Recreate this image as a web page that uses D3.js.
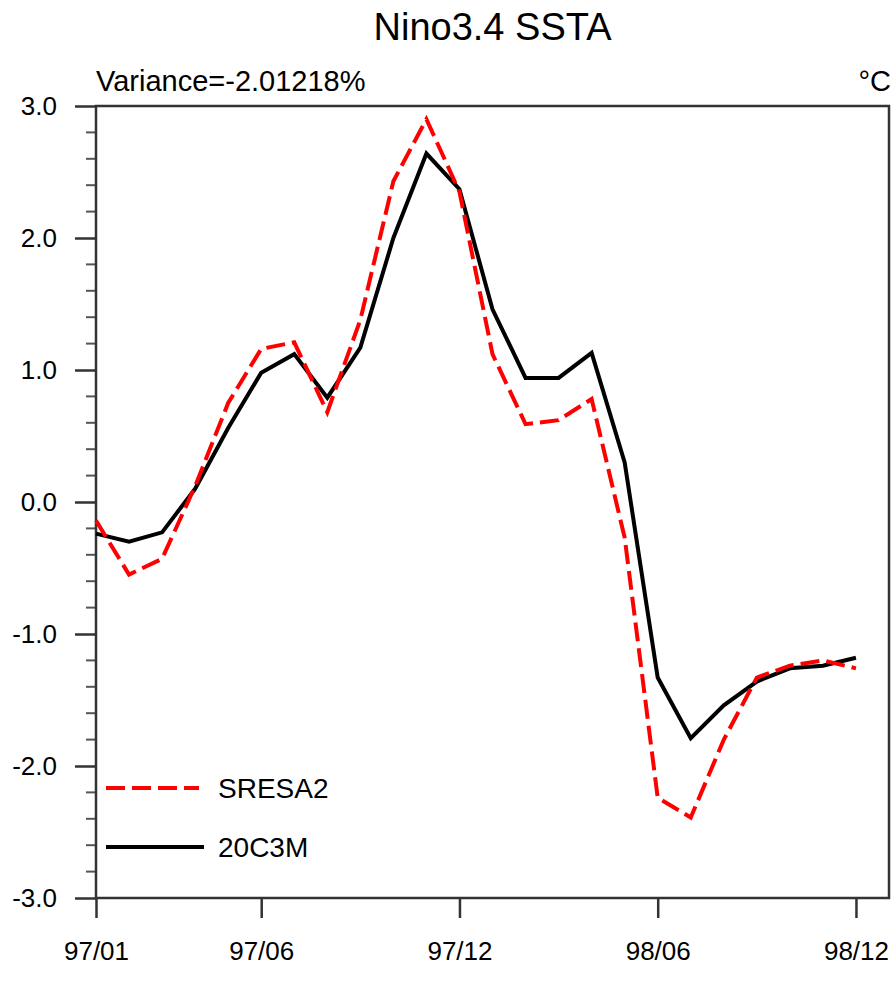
<!DOCTYPE html>
<html>
<head>
<meta charset="utf-8">
<script src="https://cdn.jsdelivr.net/npm/d3@7"></script>
<style>
  html, body { margin: 0; padding: 0; background: #fff; }
  svg { display: block; font-family: "Liberation Sans", Arial, Helvetica, sans-serif; }
</style>
</head>
<body>
<svg id="chart" width="896" height="996"></svg>
<script>
// ---- data ----
const monthIndex = d3.range(0, 24);
const sresa2 = [-0.14, -0.55, -0.43, 0.12, 0.75, 1.16, 1.21, 0.68, 1.38, 2.43, 2.90, 2.35,
                1.12, 0.59, 0.62, 0.78, -0.27, -2.24, -2.39, -1.80, -1.33, -1.24, -1.20, -1.26];
const c20c3m = [-0.24, -0.30, -0.23, 0.10, 0.56, 0.98, 1.12, 0.79, 1.17, 2.00, 2.64, 2.37,
                1.46, 0.94, 0.94, 1.13, 0.30, -1.33, -1.79, -1.54, -1.36, -1.26, -1.24, -1.18];
const xTickPos = [0, 5, 11, 17, 23];
const xTickLabels = ["97/01", "97/06", "97/12", "98/06", "98/12"];
const yMajorTicks = [-3, -2, -1, 0, 1, 2, 3];
const yTickLabels = ["-3.0", "-2.0", "-1.0", "0.0", "1.0", "2.0", "3.0"];
const seriesNames = ["SRESA2", "20C3M"];
const titleText = "Nino3.4 SSTA";
const leftText = "Variance=-2.01218%";
const rightText = "°C";

// ---- layout ----
const svg = d3.select("#chart");
const L = 96, R = 889, T = 106, B = 898;
const x = d3.scaleLinear().domain([0, 24]).range([L, R]);
const y = d3.scaleLinear().domain([-3, 3]).range([B, T]);
const axisColor = "#333";

// minor y ticks
const yMinor = d3.range(-3, 3.0001, 0.2).map(v => +v.toFixed(1)).filter(v => !yMajorTicks.includes(v));
svg.append("g").selectAll("line").data(yMinor).join("line")
  .attr("x1", L - 10).attr("x2", L)
  .attr("y1", d => y(d)).attr("y2", d => y(d))
  .attr("stroke", "#555").attr("stroke-width", 2);

// y axis with major ticks
const yAxis = d3.axisLeft(y).tickValues(yMajorTicks).tickSize(21).tickPadding(18)
  .tickFormat((d, i) => yTickLabels[i]);
const gy = svg.append("g").attr("transform", `translate(${L},0)`).call(yAxis);
gy.select(".domain").remove();
gy.selectAll(".tick line").attr("stroke", axisColor).attr("stroke-width", 2.5);
gy.selectAll(".tick text").attr("font-size", 26).attr("fill", "#000")
  .attr("font-family", "Liberation Sans, Arial, sans-serif");

// x axis
const xAxis = d3.axisBottom(x).tickValues(xTickPos).tickSize(20).tickPadding(24)
  .tickFormat((d, i) => xTickLabels[i]);
const gx = svg.append("g").attr("transform", `translate(0,${B})`).call(xAxis);
gx.select(".domain").remove();
gx.selectAll(".tick line").attr("stroke", axisColor).attr("stroke-width", 2.5);
gx.selectAll(".tick text").attr("font-size", 26).attr("fill", "#000")
  .attr("font-family", "Liberation Sans, Arial, sans-serif");

// frame
svg.append("rect").attr("x", L).attr("y", T).attr("width", R - L).attr("height", B - T)
  .attr("fill", "none").attr("stroke", axisColor).attr("stroke-width", 2.5);

// lines
const line = d3.line().x((d, i) => x(monthIndex[i])).y(d => y(d));
svg.append("path").datum(c20c3m).attr("d", line)
  .attr("fill", "none").attr("stroke", "#000").attr("stroke-width", 4)
  .attr("stroke-linejoin", "miter");
svg.append("path").datum(sresa2).attr("d", line)
  .attr("fill", "none").attr("stroke", "#ff0000").attr("stroke-width", 4)
  .attr("stroke-dasharray", "19,7").attr("stroke-linejoin", "miter");

// legend
const leg = svg.append("g");
const legY = [788, 847];
leg.append("line").attr("x1", 106).attr("x2", 199).attr("y1", legY[0]).attr("y2", legY[0])
  .attr("stroke", "#ff0000").attr("stroke-width", 4).attr("stroke-dasharray", "19,7");
leg.append("line").attr("x1", 106).attr("x2", 204).attr("y1", legY[1]).attr("y2", legY[1])
  .attr("stroke", "#000").attr("stroke-width", 4);
leg.selectAll("text").data(seriesNames).join("text")
  .attr("x", 218).attr("y", (d, i) => legY[i]).attr("dy", "0.36em")
  .attr("font-size", 28).attr("fill", "#000").text(d => d);

// titles
svg.append("text").attr("x", (L + R) / 2).attr("y", 40).attr("text-anchor", "middle")
  .attr("font-size", 38).attr("fill", "#000").text(titleText);
svg.append("text").attr("x", L).attr("y", 91).attr("font-size", 29).attr("fill", "#000").text(leftText);
svg.append("text").attr("x", R + 2).attr("y", 91).attr("text-anchor", "end")
  .attr("font-size", 29).attr("fill", "#000").text(rightText);
</script>
</body>
</html>
